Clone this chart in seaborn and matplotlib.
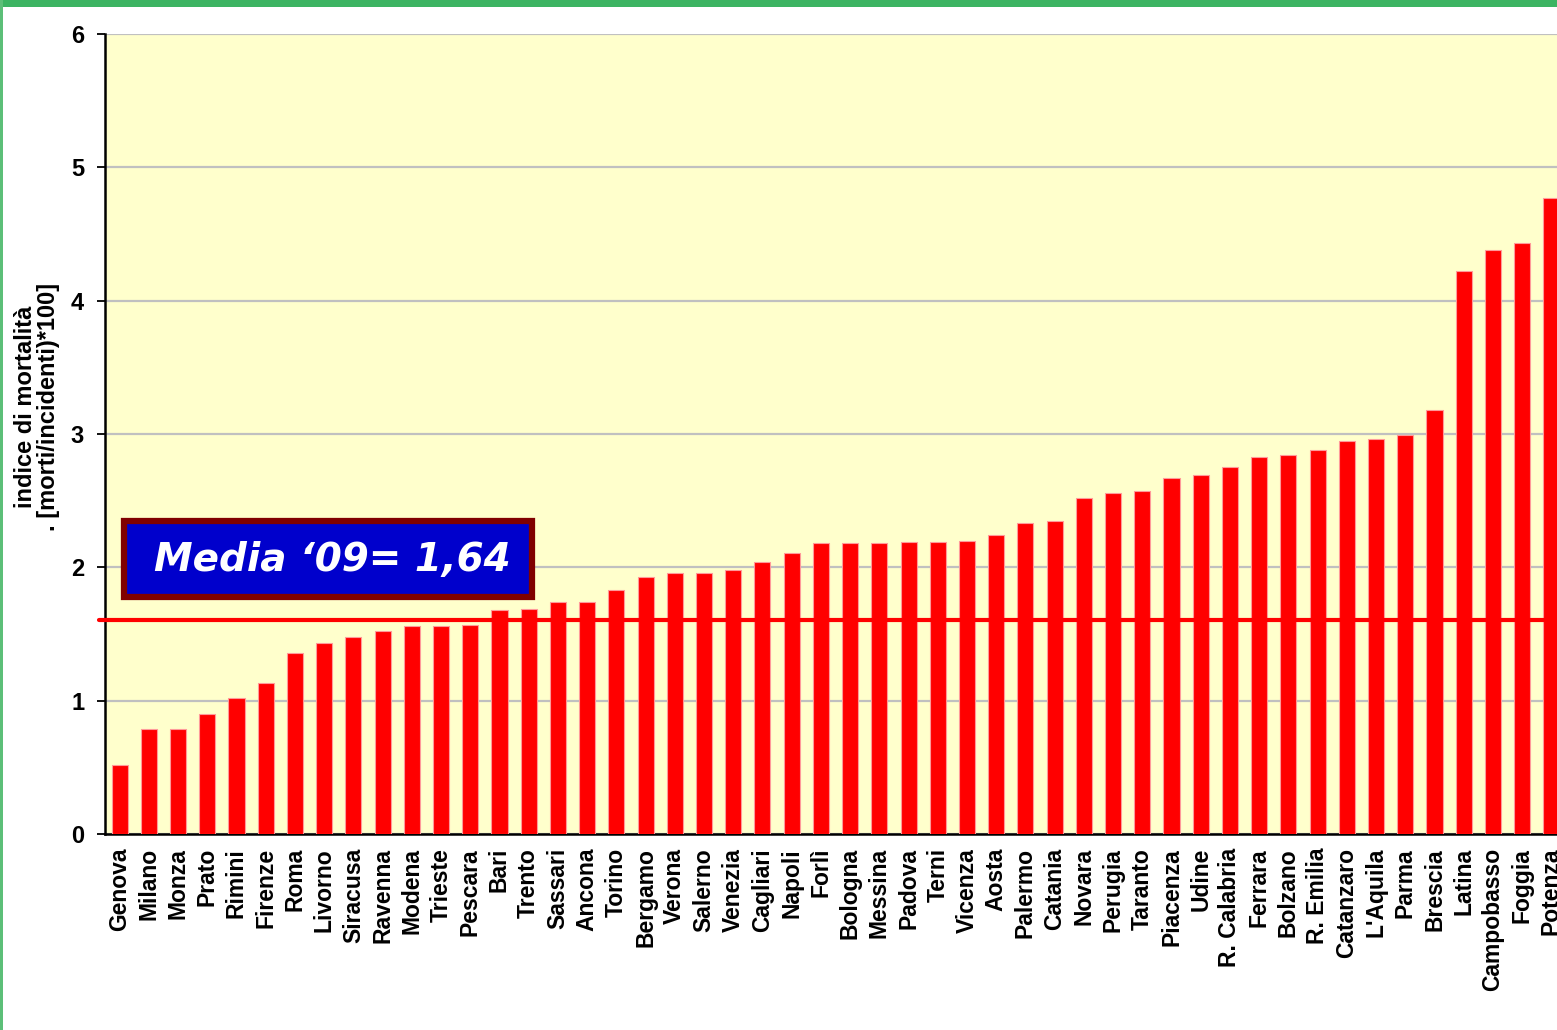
import matplotlib
matplotlib.use("Agg")
import matplotlib.pyplot as plt
import matplotlib.patches as mpatches
import seaborn as sns
import pandas as pd

cities = ["Genova", "Milano", "Monza", "Prato", "Rimini", "Firenze", "Roma", "Livorno",
          "Siracusa", "Ravenna", "Modena", "Trieste", "Pescara", "Bari", "Trento", "Sassari",
          "Ancona", "Torino", "Bergamo", "Verona", "Salerno", "Venezia", "Cagliari", "Napoli",
          "Forlì", "Bologna", "Messina", "Padova", "Terni", "Vicenza", "Aosta", "Palermo",
          "Catania", "Novara", "Perugia", "Taranto", "Piacenza", "Udine", "R. Calabria",
          "Ferrara", "Bolzano", "R. Emilia", "Catanzaro", "L'Aquila", "Parma", "Brescia",
          "Latina", "Campobasso", "Foggia", "Potenza"]
values = [0.52, 0.79, 0.79, 0.90, 1.02, 1.13, 1.36, 1.43,
          1.48, 1.52, 1.56, 1.56, 1.57, 1.68, 1.69, 1.74,
          1.74, 1.83, 1.93, 1.96, 1.96, 1.98, 2.04, 2.11,
          2.18, 2.18, 2.18, 2.19, 2.19, 2.20, 2.24, 2.33,
          2.35, 2.52, 2.56, 2.57, 2.67, 2.69, 2.75,
          2.83, 2.84, 2.88, 2.95, 2.96, 2.99, 3.18,
          4.22, 4.38, 4.43, 4.77]
y_ticks = [0, 1, 2, 3, 4, 5, 6]
media_line = 1.605
media_label = "Media \u201809= 1,64"
y_label = "indice di mortalità\n. [morti/incidenti)*100]"

df = pd.DataFrame({"city": cities, "value": values})

sns.set_theme(style="white")
plt.rcParams["font.family"] = ["Liberation Sans", "DejaVu Sans"]
plt.rcParams["text.color"] = "black"

W, H = 1557, 1030
fig = plt.figure(figsize=(W / 100, H / 100), dpi=100)
fig.patch.set_facecolor("white")

# green frame (top band and left band)
fig.patches.append(mpatches.Rectangle((0, 1 - 7 / H), 1, 7 / H, transform=fig.transFigure,
                                      facecolor="#3cb462", edgecolor="none", zorder=0))
fig.patches.append(mpatches.Rectangle((0, 0), 3.5 / W, 1, transform=fig.transFigure,
                                      facecolor="#5cbf78", edgecolor="none", zorder=0))

ax_left, ax_right, ax_top, ax_bottom = 105, 1566, 34, 834
ax = fig.add_axes([ax_left / W, 1 - ax_bottom / H, (ax_right - ax_left) / W, (ax_bottom - ax_top) / H])
ax.set_facecolor("#ffffcc")

sns.barplot(data=df, x="city", y="value", color="#ff0000", saturation=1, width=0.55,
            edgecolor="#ff9a9a", linewidth=0.8, ax=ax, zorder=3)

ax.set_xlim(-0.5, len(cities) - 0.5)
ax.set_ylim(0, 6)
ax.set_yticks(y_ticks)
ax.set_yticklabels([str(t) for t in y_ticks], fontsize=17, fontweight="bold", color="black")
ax.yaxis.grid(True, color="#c0c0c0", linewidth=1.6, zorder=1)
ax.set_axisbelow(True)

ax.set_xticks(range(len(cities)))
ax.set_xticklabels(cities, rotation=90, fontsize=16.5, fontweight="bold", va="top", ha="center",
                   color="black")
ax.set_xticks([i + 0.5 for i in range(-1, len(cities))], minor=True)
ax.tick_params(axis="x", which="major", length=0, pad=10)
ax.tick_params(axis="x", which="minor", length=6, width=1.3, color="black", direction="out")
ax.tick_params(axis="y", which="major", length=6, width=1.3, color="black", direction="out",
               left=True, pad=9)
ax.set_xlabel("")
ax.set_ylabel("")

for s in ["top", "right"]:
    ax.spines[s].set_visible(False)
for s in ["left", "bottom"]:
    ax.spines[s].set_color("black")
    ax.spines[s].set_linewidth(1.8)

# mean line
ax.plot([-0.004, 1], [media_line, media_line], transform=ax.get_yaxis_transform(),
        color="#ff0000", linewidth=3, zorder=4, clip_on=False)

# label box
bx0, bx1, by0, by1 = 124, 532, 521, 597
fig.patches.append(mpatches.Rectangle((bx0 / W, 1 - by1 / H), (bx1 - bx0) / W, (by1 - by0) / H,
                                      transform=fig.transFigure, facecolor="#0000cc",
                                      edgecolor="#800000", linewidth=4.5, zorder=5))
fig.text(332 / W, 1 - 560 / H, media_label, color="white", fontsize=28, fontweight="bold",
         fontstyle="italic", family=["DejaVu Sans"], ha="center", va="center", zorder=6)

# y label
fig.text(37 / W, 1 - 407 / H, y_label, rotation=90, fontsize=17, fontweight="bold",
         ha="center", va="center", multialignment="center", linespacing=1.05, color="black")

fig.savefig("out.png", dpi=100, facecolor="white")
